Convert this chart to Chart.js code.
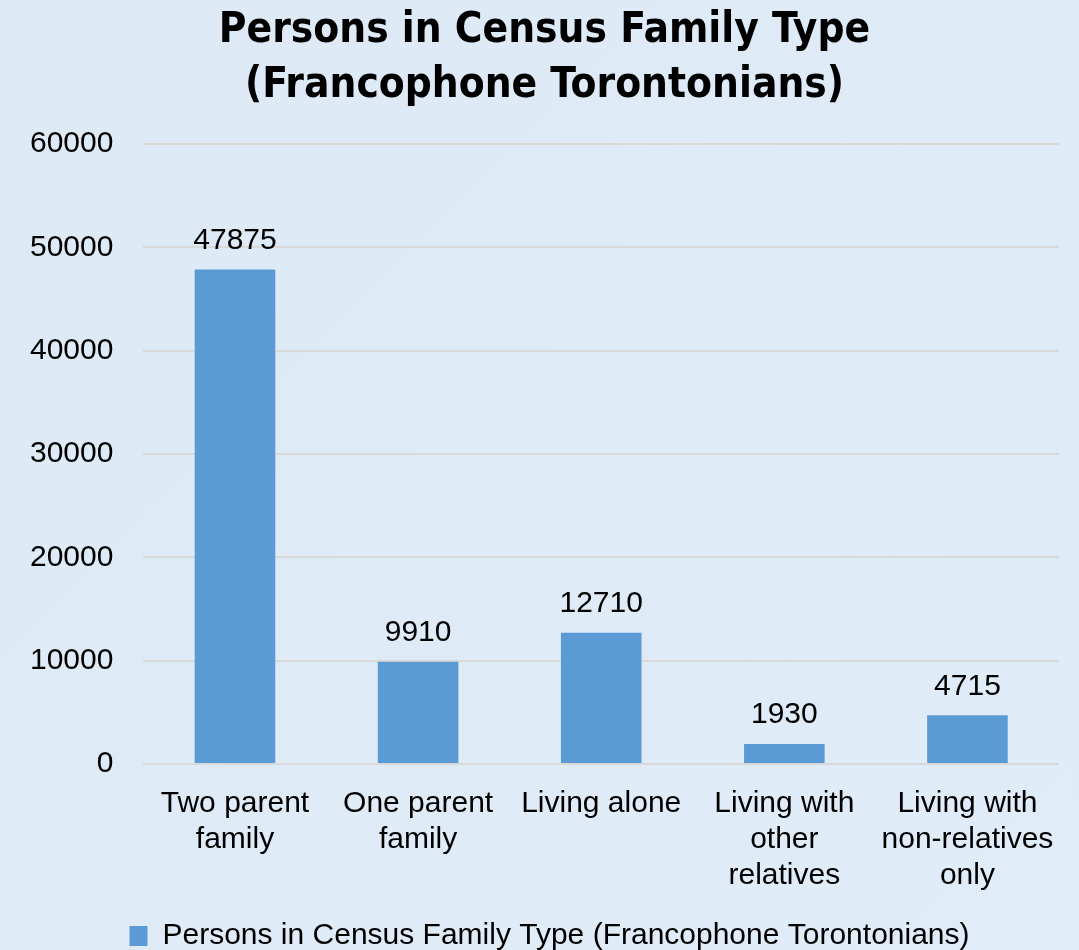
<!DOCTYPE html>
<html lang="en">
  <head>
    <meta charset="UTF-8" />
    <title>Persons in Census Family Type</title>
    <script src="https://cdn.jsdelivr.net/npm/chart.js"></script>
    <style>
      body {
        margin: 0;
        background: #dfebf6;
      }
      #wrap {
        width: 1079px;
        height: 950px;
        background: linear-gradient(135deg, #dde9f5 0%, #e0ecf7 100%);
      }
    </style>
  </head>
  <body>
    <div id="wrap"><canvas id="familyChart"></canvas></div>
    <script>
      const categories = [
        ["Two parent", "family"],
        ["One parent", "family"],
        "Living alone",
        ["Living with", "other", "relatives"],
        ["Living with", "non-relatives", "only"],
      ];
      const persons = [47875, 9910, 12710, 1930, 4715];
      const seriesName =
        "Persons in Census Family Type (Francophone Torontonians)";
      const titleLines = [
        "Persons in Census Family Type",
        "(Francophone Torontonians)",
      ];

      const textFont = "'Liberation Sans', Arial, sans-serif";

      // draws the value above each bar
      const barValues = {
        id: "barValues",
        afterDatasetsDraw(chart) {
          const ctx = chart.ctx;
          const meta = chart.getDatasetMeta(0);
          ctx.save();
          ctx.font = "30px " + textFont;
          ctx.fillStyle = "#000";
          ctx.textAlign = "center";
          ctx.textBaseline = "bottom";
          meta.data.forEach((bar, i) => {
            ctx.fillText(chart.data.datasets[0].data[i], bar.x, bar.y - 14);
          });
          ctx.restore();
        },
      };

      // title and legend are centred a bit right of the canvas middle
      const nudge = {
        id: "nudge",
        afterLayout(chart) {
          if (chart.titleBlock) {
            chart.titleBlock.left += 15;
            chart.titleBlock.right += 15;
          }
          if (chart.legend) {
            chart.legend.left += 20;
            chart.legend.right += 20;
          }
        },
      };

      new Chart(document.getElementById("familyChart"), {
        type: "bar",
        data: {
          labels: categories,
          datasets: [
            {
              label: seriesName,
              data: persons,
              backgroundColor: "#5b9bd5",
              barPercentage: 0.44,
              categoryPercentage: 1,
            },
          ],
        },
        options: {
          responsive: true,
          maintainAspectRatio: false,
          animation: false,
          // legend sits lower than chart.js would put it
          layout: { padding: { left: 0, right: 20, top: 0, bottom: -11 } },
          plugins: {
            title: {
              display: true,
              text: titleLines,
              color: "#000",
              font: {
                family: "'DejaVu Sans Condensed', " + textFont,
                size: 42,
                weight: "bold",
                lineHeight: 1.3,
              },
              padding: { top: 4, bottom: 31 },
            },
            legend: {
              position: "bottom",
              labels: {
                color: "#000",
                font: { family: textFont, size: 30 },
                boxWidth: 18,
                boxHeight: 20,
                padding: 13,
              },
            },
            tooltip: { enabled: false },
          },
          scales: {
            x: {
              grid: { display: false },
              border: { display: false },
              ticks: {
                color: "#000",
                font: { family: textFont, size: 30, lineHeight: 1.2 },
                padding: 14,
                maxRotation: 0,
                autoSkip: false,
              },
            },
            y: {
              min: 0,
              max: 60000,
              ticks: {
                stepSize: 10000,
                color: "#000",
                font: { family: textFont, size: 30 },
                padding: 30,
                callback: (v) => String(v),
              },
              grid: { color: "#d9d9d9", lineWidth: 2, drawTicks: false },
              border: { display: false },
            },
          },
        },
        plugins: [barValues, nudge],
      });
    </script>
  </body>
</html>
